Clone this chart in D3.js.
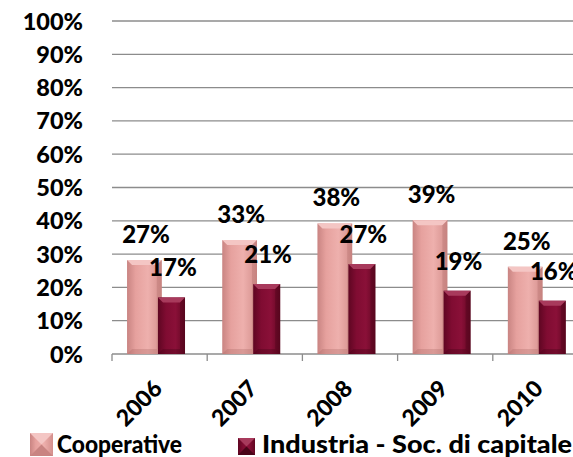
<!DOCTYPE html>
<meta charset="utf-8">
<script src="https://d3js.org/d3.v7.min.js"></script>
<style>
  body { margin: 0; background: #fff; }
  text { font-family: Lato, "Open Sans", sans-serif; font-weight: 900; fill: #000; }
</style>
<div id="chart"></div>
<script>

// data
var years = ["2006", "2007", "2008", "2009", "2010"];
var cooperative = [0.27, 0.33, 0.38, 0.39, 0.25];
var industria = [0.17, 0.21, 0.27, 0.19, 0.16];
var seriesNames = ["Cooperative", "Industria - Soc. di capitale"];
var yTicks = [0, 0.1, 0.2, 0.3, 0.4, 0.5, 0.6, 0.7, 0.8, 0.9, 1];

var width = 573, height = 457;

var svg = d3.select("#chart").append("svg")
  .attr("width", width)
  .attr("height", height);

var defs = svg.append("defs");

function hGrad(id, stops) {
  var g = defs.append("linearGradient").attr("id", id)
    .attr("x1", "0").attr("x2", "1").attr("y1", "0").attr("y2", "0");
  stops.forEach(function(s) {
    g.append("stop").attr("offset", s[0]).attr("stop-color", s[1]);
  });
}
hGrad("coopGrad", [[0, "#c98482"], [0.25, "#e6a19e"], [0.6, "#eeb0ad"], [1, "#d48f8c"]]);
hGrad("indGrad", [[0, "#5f0622"], [0.3, "#800c32"], [0.65, "#8a1038"], [1, "#620722"]]);

// scales
var x = d3.scaleBand().domain(years).range([112, 588]);
var y = d3.scaleLinear().domain([0, 1]).range([354, 21]);
var bw = x.bandwidth();

// gridlines
svg.append("g")
  .selectAll("line")
  .data(yTicks.slice(1))
  .enter().append("line")
  .attr("x1", 112).attr("x2", width)
  .attr("y1", function(d) { return y(d); })
  .attr("y2", function(d) { return y(d); })
  .style("stroke", "#8c8c8c")
  .style("stroke-width", 1.3);

// y labels
svg.append("g")
  .selectAll("text")
  .data(yTicks)
  .enter().append("text")
  .attr("x", 83)
  .attr("y", function(d) { return y(d) + 8.5; })
  .attr("text-anchor", "end")
  .style("font-size", "23.5px")
  .text(function(d) { return Math.round(d * 100) + "%"; });

// x axis line and ticks
svg.append("line")
  .attr("x1", 112).attr("x2", width)
  .attr("y1", y(0)).attr("y2", y(0))
  .style("stroke", "#8c8c8c").style("stroke-width", 1.3);

svg.append("g")
  .selectAll("line")
  .data(years)
  .enter().append("line")
  .attr("x1", function(d) { return x(d); })
  .attr("x2", function(d) { return x(d); })
  .attr("y1", y(0)).attr("y2", y(0) + 7)
  .style("stroke", "#8c8c8c").style("stroke-width", 1.3);

// bevelled bar
function drawBar(g, bx, top, w, bottom, fillId, light, dark) {
  var b = 5;
  g.append("rect")
    .attr("x", bx).attr("y", top)
    .attr("width", w).attr("height", bottom - top)
    .style("fill", "url(#" + fillId + ")");
  g.append("polygon")
    .attr("points", [[bx, top], [bx + w, top], [bx + w - b, top + b], [bx + b, top + b]].join(" "))
    .style("fill", light);
  g.append("polygon")
    .attr("points", [[bx, bottom], [bx + w, bottom], [bx + w - b, bottom - b], [bx + b, bottom - b]].join(" "))
    .style("fill", dark).style("opacity", 0.3);
  g.append("polygon")
    .attr("points", [[bx + w, top], [bx + w, bottom], [bx + w - b, bottom - b], [bx + w - b, top + b]].join(" "))
    .style("fill", dark).style("opacity", 0.3);
}

var depth = 4;
var bars = svg.append("g");
years.forEach(function(yr, i) {
  var x0 = x(yr);
  drawBar(bars, x0 + bw * 0.158, y(cooperative[i]) - depth, bw * 0.365, y(0),
    "coopGrad", "#f4c6c4", "#a86664");
  drawBar(bars, x0 + bw * 0.483, y(industria[i]), bw * 0.284, y(0),
    "indGrad", "#a83a5c", "#3f0314");
});

// value labels
var labels = svg.append("g").style("font-size", "24px");
labels.selectAll(".lc")
  .data(cooperative)
  .enter().append("text")
  .attr("class", "lc")
  .attr("text-anchor", "middle")
  .attr("x", function(d, i) { return x(years[i]) + bw * 0.357; })
  .attr("y", function(d) { return y(d) - 21; })
  .text(function(d) { return Math.round(d * 100) + "%"; });
labels.selectAll(".li")
  .data(industria)
  .enter().append("text")
  .attr("class", "li")
  .attr("text-anchor", "middle")
  .attr("x", function(d, i) { return x(years[i]) + bw * 0.64; })
  .attr("y", function(d) { return y(d) - 21; })
  .text(function(d) { return Math.round(d * 100) + "%"; });

// rotated year labels
svg.append("g")
  .selectAll("text")
  .data(years)
  .enter().append("text")
  .attr("text-anchor", "end")
  .style("font-size", "23px")
  .attr("transform", function(d) {
    return "translate(" + (x(d) + bw / 2 + 4) + ",390) rotate(-45)";
  })
  .text(function(d) { return d; });

// legend
var legend = svg.append("g");
legend.append("rect").attr("x", 30).attr("y", 433).attr("width", 23).attr("height", 23)
  .style("fill", "url(#coopGrad)");
legend.append("polygon").attr("points", "30,433 53,433 41.5,444.5").style("fill", "#f4c6c4");
legend.append("polygon").attr("points", "30,456 53,456 41.5,444.5").style("fill", "#c98482");
legend.append("text").attr("x", 57).attr("y", 453).style("font-size", "24px")
  .attr("textLength", 125).attr("lengthAdjust", "spacingAndGlyphs")
  .text(seriesNames[0]);

legend.append("rect").attr("x", 238).attr("y", 438).attr("width", 17).attr("height", 17)
  .style("fill", "url(#indGrad)");
legend.append("polygon").attr("points", "238,438 255,438 246.5,446.5").style("fill", "#a83a5c");
legend.append("polygon").attr("points", "238,455 255,455 246.5,446.5").style("fill", "#4a0418");
legend.append("text").attr("x", 262).attr("y", 453).style("font-size", "24px")
  .attr("textLength", 310).attr("lengthAdjust", "spacingAndGlyphs")
  .text(seriesNames[1]);

</script>
